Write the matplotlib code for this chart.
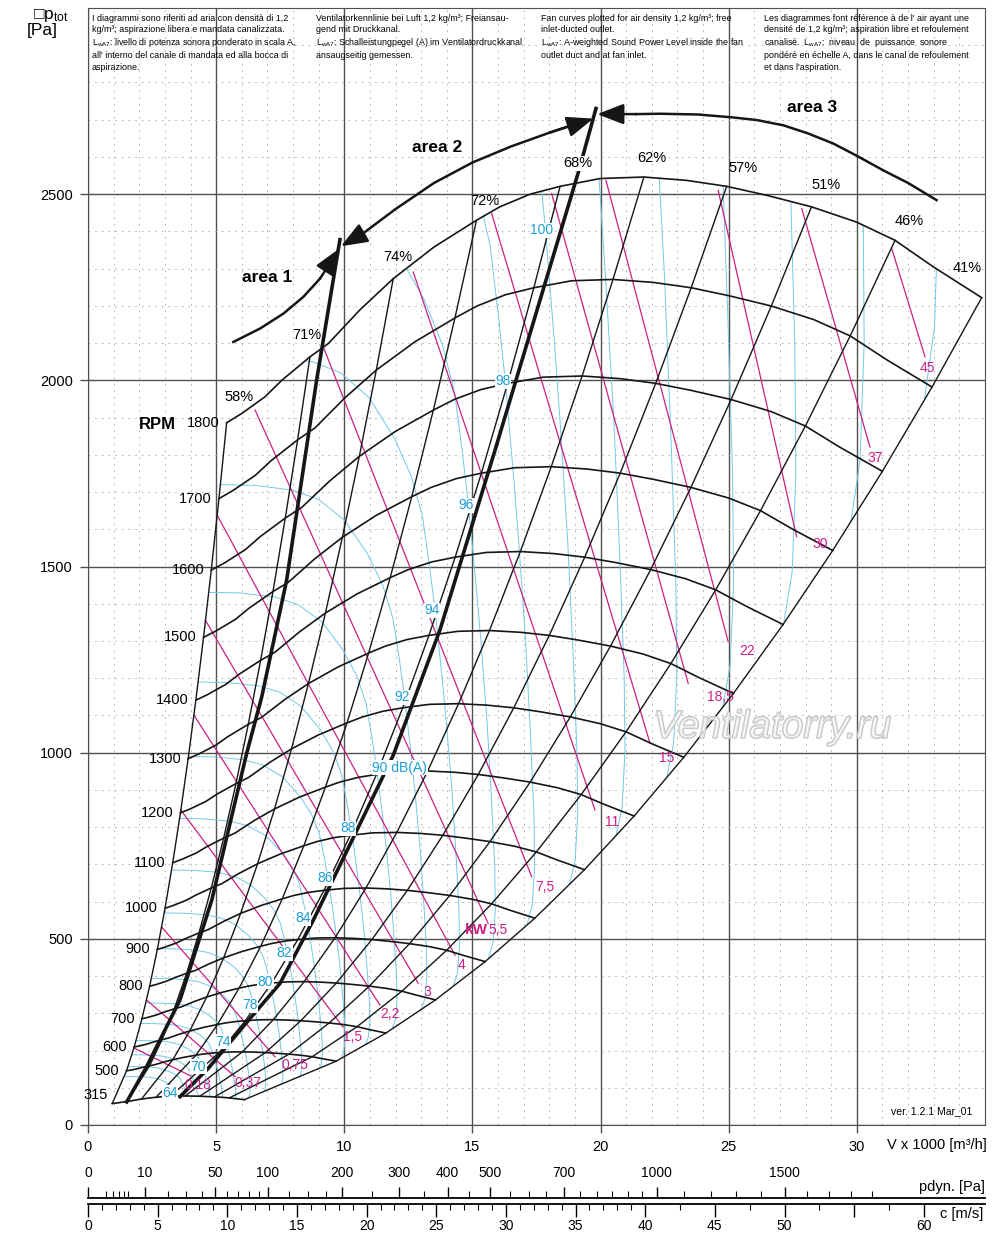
import numpy as np
import matplotlib
matplotlib.use("Agg")
import matplotlib.pyplot as plt
from matplotlib.patches import Polygon
import matplotlib.patheffects as pe

plt.rcParams['font.family'] = ['Liberation Sans', 'DejaVu Sans']
plt.rcParams['mathtext.fontset'] = 'custom'
plt.rcParams['mathtext.rm'] = 'Liberation Sans'
plt.rcParams['mathtext.it'] = 'Liberation Sans'

BLACK = '#161616'
GRID = '#505050'
MAG = '#cc1f84'
CYAN_LINE = '#72c8e8'
CYAN_TXT = '#1c9ed8'

# fan curve at 1800 rpm, V x 1000 m3/h and total pressure in Pa
curve_v = [5.41, 6.0, 6.91, 7.56, 8.66, 9.38, 10.62, 11.91, 13.5, 15.16, 16.07, 17.25,
           18.42, 19.98, 21.69, 23.36, 24.92, 26.48, 28.23, 29.99, 31.49, 32.98, 34.87]
curve_p = [1886, 1911, 1956, 2000, 2063, 2099, 2190, 2273, 2358, 2430, 2466, 2500,
           2521, 2542, 2546, 2537, 2521, 2497, 2466, 2425, 2376, 2305, 2222]
rpm = [1800, 1700, 1600, 1500, 1400, 1300, 1200, 1100, 1000, 900, 800, 700, 600, 500, 315]

# efficiency lines: where they leave the 1800 rpm curve
eff_v = [5.41, 8.66, 11.91, 15.16, 18.42, 21.69, 24.92, 28.23, 31.49, 34.87]
eff_p = [1886, 2063, 2273, 2430, 2521, 2546, 2521, 2466, 2376, 2222]
eff_text = ['58%', '71%', '74%', '72%', '68%', '62%', '57%', '51%', '46%', '41%']
eff_tv = [5.89, 8.54, 12.1, 15.49, 19.12, 22.0, 25.56, 28.79, 32.03, 34.3]
eff_tp = [1955, 2121, 2331, 2481, 2583, 2596, 2570, 2524, 2427, 2301]

# 92 dB(A) sound curve, the other levels follow the fan laws
snd_ref = 92
snd_v = [5.0, 6.5, 8.0, 9.0, 10.0, 10.9, 11.5, 11.9, 12.15, 12.35, 12.6, 12.75, 12.95,
         13.1, 13.2, 13.22, 13.15, 12.95]
snd_p = [1720, 1718, 1705, 1680, 1625, 1535, 1450, 1360, 1250, 1150, 1000, 900, 750,
         600, 480, 400, 340, 300]
snd_levels = [64, 66, 68, 70, 72, 74, 76, 78, 80, 82, 84, 86, 88, 90, 92, 94, 96, 98,
              100, 102, 104, 106, 108, 110, 112]
snd_text = ['64', '70', '74', '78', '80', '82', '84', '86', '88', '90 dB(A)', '92', '94',
            '96', '98', '100']
snd_tv = [3.2, 4.3, 5.26, 6.32, 6.93, 7.66, 8.39, 9.25, 10.14, 12.17, 12.25, 13.42,
          14.75, 16.19, 17.71]
snd_tp = [87, 157, 224, 322, 385, 461, 556, 663, 797, 959, 1149, 1383, 1665, 1998, 2403]

# shaft power lines (kW)
kw_text = ['0,18', '0,37', '0,75', '1,5', '2,2', '3', '4', '5,5', '7,5', '11', '15',
           '18,5', '22', '30', '37', '45']
kw_v0 = [1.79, 2.28, 2.87, 3.62, 4.13, 4.58, 5.04, 6.52, 9.18, 12.69, 15.75, 18.09,
         20.21, 24.59, 27.85, 31.36]
kw_p0 = [207, 336, 532, 846, 1101, 1356, 1638, 1920, 2090, 2291, 2448, 2502, 2537,
         2510, 2461, 2354]
kw_v1 = [4.0, 5.74, 7.3, 9.95, 11.39, 12.88, 14.32, 15.61, 17.31, 19.78, 21.93, 23.42,
         24.98, 27.65, 30.51, 32.66]
kw_p1 = [132, 130, 183, 263, 322, 381, 456, 542, 667, 846, 1025, 1186, 1298, 1580,
         1821, 2063]
kw_tv = [4.3, 6.25, 8.08, 10.34, 11.78, 13.23, 14.59, 16.0, 17.83, 20.44, 22.59, 24.66,
         25.71, 28.56, 30.71, 32.77]
kw_tp = [107, 114, 161, 236, 298, 357, 430, 524, 639, 814, 985, 1149, 1273, 1560,
         1791, 2033]

# area border lines
line1_v = [1.51, 2.29, 3.59, 4.83, 6.19, 6.78, 7.75, 8.92, 9.83]
line1_p = [62, 157, 336, 604, 998, 1150, 1463, 2000, 2378]
line2_v = [3.59, 4.69, 6.32, 7.49, 8.79, 11.91, 13.73, 15.88, 19.13, 19.82]
line2_p = [76, 152, 286, 380, 550, 993, 1329, 1812, 2558, 2730]

# area arrows
arr1_v = [5.67, 6.71, 7.62, 8.4, 9.05, 9.81]
arr1_p = [2103, 2139, 2179, 2224, 2273, 2354]
arr2_v = [9.87, 10.74, 12.0, 13.5, 15.0, 16.5, 18.0, 19.0, 19.72]
arr2_p = [2360, 2395, 2460, 2530, 2585, 2628, 2665, 2688, 2703]
arr3_v = [33.11, 32.0, 31.03, 30.0, 29.08, 28.1, 27.13, 26.1, 25.18, 23.8, 22.32, 21.4, 20.63, 19.87]
arr3_p = [2484, 2530, 2564, 2603, 2636, 2663, 2685, 2699, 2706, 2714, 2716, 2715, 2713, 2715]

hdr_text = [
    "I diagrammi sono riferiti ad aria con densità di 1,2\n"
    "kg/m³; aspirazione libera e mandata canalizzata.\n"
    "L$_{wA7}$: livello di potenza sonora ponderato in scala A,\n"
    "all' interno del canale di mandata ed alla bocca di\n"
    "aspirazione.",
    "Ventilatorkennlinie bei Luft 1,2 kg/m³; Freiansau-\n"
    "gend mit Druckkanal.\n"
    "L$_{wA7}$: Schalleistungpegel (A) im Ventilatordruckkanal\n"
    "ansaugseitig gemessen.",
    "Fan curves plotted for air density 1,2 kg/m³; free\n"
    "inlet-ducted outlet.\n"
    "L$_{wA7}$: A-weighted Sound Power Level inside the fan\n"
    "outlet duct and at fan inlet.",
    "Les diagrammes font référence à de l' air ayant une\n"
    "densité de 1,2 kg/m³; aspiration libre et refoulement\n"
    "canalisé.  L$_{wA7}$:  niveau  de  puissance  sonore\n"
    "pondéré en échelle A, dans le canal de refoulement\n"
    "et dans l'aspiration.",
]
hdr_x = [0.16, 8.9, 17.67, 26.38]

fig = plt.figure(figsize=(10, 12.59), dpi=100)
ax = fig.add_axes([0.088, 1 - 1125 / 1259, 0.897, 1117 / 1259])
ax.set_xlim(0, 35)
ax.set_ylim(0, 3000)

ax.set_xticks(range(0, 35, 5))
ax.set_xticklabels([str(v) for v in range(0, 35, 5)])
ax.set_yticks(range(0, 3000, 500))
ax.set_xticks(np.arange(0, 35, 1), minor=True)
ax.set_yticks(np.arange(0, 3000, 100), minor=True)
ax.grid(which='major', color=GRID, lw=1.0, zorder=0)
ax.grid(which='minor', color='#a8a8a8', lw=0.6, ls=(0, (2, 6)), zorder=0)
ax.tick_params(which='major', length=6, width=1.0, color=GRID, labelsize=10.5, pad=5)
ax.tick_params(which='minor', length=0)
for s in ax.spines.values():
    s.set_color(GRID)
ax.set_axisbelow(True)

cv = np.array(curve_v)
cp = np.array(curve_p)
ks = np.array(rpm) / 1800.0

# fan working area, used to clip the sound curves
env = np.vstack([
    np.column_stack([cv, cp]),
    np.column_stack([cv[-1] * ks, cp[-1] * ks ** 2]),
    np.column_stack([cv[::-1] * ks[-1], cp[::-1] * ks[-1] ** 2]),
    np.column_stack([cv[0] * ks[::-1], cp[0] * ks[::-1] ** 2]),
])
clip = Polygon(env, closed=True, transform=ax.transData, fc='none', ec='none')
ax.add_patch(clip)

sv = np.array(snd_v)
sp = np.array(snd_p)
for lev in snd_levels:
    k = 10 ** ((lev - snd_ref) / 50.0)
    ln, = ax.plot(sv * k, sp * k ** 2, color=CYAN_LINE, lw=0.7, zorder=2)
    ln.set_clip_path(clip)

for i in range(len(kw_text)):
    ax.plot([kw_v0[i], kw_v1[i]], [kw_p0[i], kw_p1[i]], color=MAG, lw=0.9, zorder=3)
    ax.text(kw_tv[i], kw_tp[i], kw_text[i], color=MAG, fontsize=10,
            ha='center', va='center', zorder=6)
ax.text(15.15, 524, 'kW', color=MAG, fontsize=11, fontweight='bold',
        ha='center', va='center', zorder=6)

for k in ks:
    ax.plot(cv * k, cp * k ** 2, color=BLACK, lw=1.2, zorder=4)
for v0, p0 in zip(eff_v, eff_p):
    ax.plot(v0 * ks, p0 * ks ** 2, color=BLACK, lw=1.0, zorder=4)

ax.plot(line1_v, line1_p, color=BLACK, lw=2.6, zorder=5)
ax.plot(line2_v, line2_p, color=BLACK, lw=2.6, zorder=5)

for n, k in zip(rpm, ks):
    off = (-3, 6) if n == 315 else (-5, 0)
    ax.annotate(str(n), xy=(cv[0] * k, cp[0] * k ** 2), xytext=off,
                textcoords='offset points', ha='right', va='center',
                fontsize=10.5, zorder=6)
ax.text(2.69, 1882, 'RPM', fontsize=12, fontweight='bold', ha='center', va='center')

for t, x, y in zip(eff_text, eff_tv, eff_tp):
    bb = dict(fc='white', ec='none', pad=0.5) if t == '68%' else None
    ax.text(x, y, t, fontsize=10.5, ha='center', va='center', zorder=7, bbox=bb)

for t, x, y in zip(snd_text, snd_tv, snd_tp):
    ax.text(x, y, t, fontsize=10, color=CYAN_TXT, ha='center', va='center', zorder=7,
            bbox=dict(fc='white', ec='none', pad=0.4))


def head(tip, tail):
    ax.annotate('', xy=tip, xytext=tail, zorder=8,
                arrowprops=dict(arrowstyle='-|>,head_length=0.9,head_width=0.35',
                                mutation_scale=18, lw=1.8, color=BLACK,
                                shrinkA=0, shrinkB=0))


ax.plot(arr1_v[:-1], arr1_p[:-1], color=BLACK, lw=1.8, zorder=8)
head((arr1_v[-1], arr1_p[-1]), (arr1_v[-2], arr1_p[-2]))
ax.plot(arr2_v[1:-1], arr2_p[1:-1], color=BLACK, lw=1.8, zorder=8)
head((arr2_v[0], arr2_p[0]), (arr2_v[1], arr2_p[1]))
head((arr2_v[-1], arr2_p[-1]), (arr2_v[-3], arr2_p[-3]))
ax.plot(arr3_v[:-2], arr3_p[:-2], color=BLACK, lw=1.8, zorder=8)
head((arr3_v[-1], arr3_p[-1]), (arr3_v[-3], arr3_p[-3]))

ax.text(6.98, 2277, 'area 1', fontsize=12.5, fontweight='bold', ha='center', va='center')
ax.text(13.62, 2626, 'area 2', fontsize=12.5, fontweight='bold', ha='center', va='center')
ax.text(28.25, 2733, 'area 3', fontsize=12.5, fontweight='bold', ha='center', va='center')

for x, t in zip(hdr_x, hdr_text):
    ax.text(x, 2985, t, fontsize=6.4, ha='left', va='top', linespacing=1.3, zorder=8)

ax.text(26.7, 1067, 'Ventilatorry.ru', fontsize=28, style='italic',
        color=(1, 1, 1, 0.45), ha='center', va='center', zorder=9,
        path_effects=[pe.withStroke(linewidth=1.4, foreground='#c4c4c4')])
ax.text(32.93, 38, 'ver. 1.2.1 Mar_01', fontsize=7.5, ha='center', va='center')

fig.text(0.033, 1 - 15 / 1259, '□p$_{tot}$', fontsize=12.5, ha='left', va='center')
fig.text(0.027, 1 - 30 / 1259, '[Pa]', fontsize=12.5, ha='left', va='center')
fig.text(0.937, 1 - 1145 / 1259, 'V x 1000 [m³/h]', fontsize=10.5, ha='center', va='center')

# dynamic pressure scale (air 1,2 kg/m3)
c_max = 897 / 13.93
ax_p = fig.add_axes([0.088, 1 - 1198 / 1259, 0.897, 0.0001])
ax_p.patch.set_visible(False)
ax_p.set_xscale('function', functions=(lambda q: np.sqrt(np.maximum(q, 0) / 0.6),
                                       lambda c: 0.6 * np.asarray(c) ** 2))
ax_p.set_xlim(0, 0.6 * c_max ** 2)
ax_p.set_yticks([])
for s in ['left', 'right', 'bottom']:
    ax_p.spines[s].set_visible(False)
ax_p.spines['top'].set_linewidth(1.3)
ax_p.xaxis.tick_top()
pdyn_major = [0, 10, 50, 100, 200, 300, 400, 500, 700, 1000, 1500]
pdyn_minor = [1, 2, 3, 4, 5, 20, 30, 40, 60, 70, 80, 90, 125, 150, 175, 250, 350, 450,
              550, 600, 650, 750, 800, 850, 900, 950, 1100, 1200, 1300, 1400, 1600, 1700,
              1800, 1900]
ax_p.set_xticks(pdyn_major)
ax_p.set_xticklabels([str(v) for v in pdyn_major])
ax_p.set_xticks(pdyn_minor, minor=True)
ax_p.xaxis.set_minor_formatter(plt.NullFormatter())
ax_p.tick_params(which='major', length=8, width=1.0, labelsize=10, pad=5)
ax_p.tick_params(which='minor', length=5, width=0.8)
fig.text(0.952, 1 - 1187 / 1259, 'pdyn. [Pa]', fontsize=10.5, ha='center', va='center')

# air velocity scale
ax_c = fig.add_axes([0.088, 1 - 1204 / 1259, 0.897, 0.0001])
ax_c.patch.set_visible(False)
ax_c.set_xlim(0, c_max)
ax_c.set_yticks([])
for s in ['left', 'right', 'top']:
    ax_c.spines[s].set_visible(False)
ax_c.spines['bottom'].set_linewidth(1.3)
c_major = [0, 5, 10, 15, 20, 25, 30, 35, 40, 45, 50, 55, 60]
c_minor = list(range(1, 40)) + [42.5, 47.5, 52.5, 57.5]
ax_c.set_xticks(c_major)
ax_c.set_xticklabels(['' if v == 55 else str(v) for v in c_major])
ax_c.set_xticks(c_minor, minor=True)
ax_c.tick_params(which='major', length=9, width=1.0, labelsize=10, pad=2)
ax_c.tick_params(which='minor', length=4.5, width=0.8)
fig.text(0.962, 1 - 1214 / 1259, 'c [m/s]', fontsize=10.5, ha='center', va='center')

fig.savefig('out.png', dpi=100)
